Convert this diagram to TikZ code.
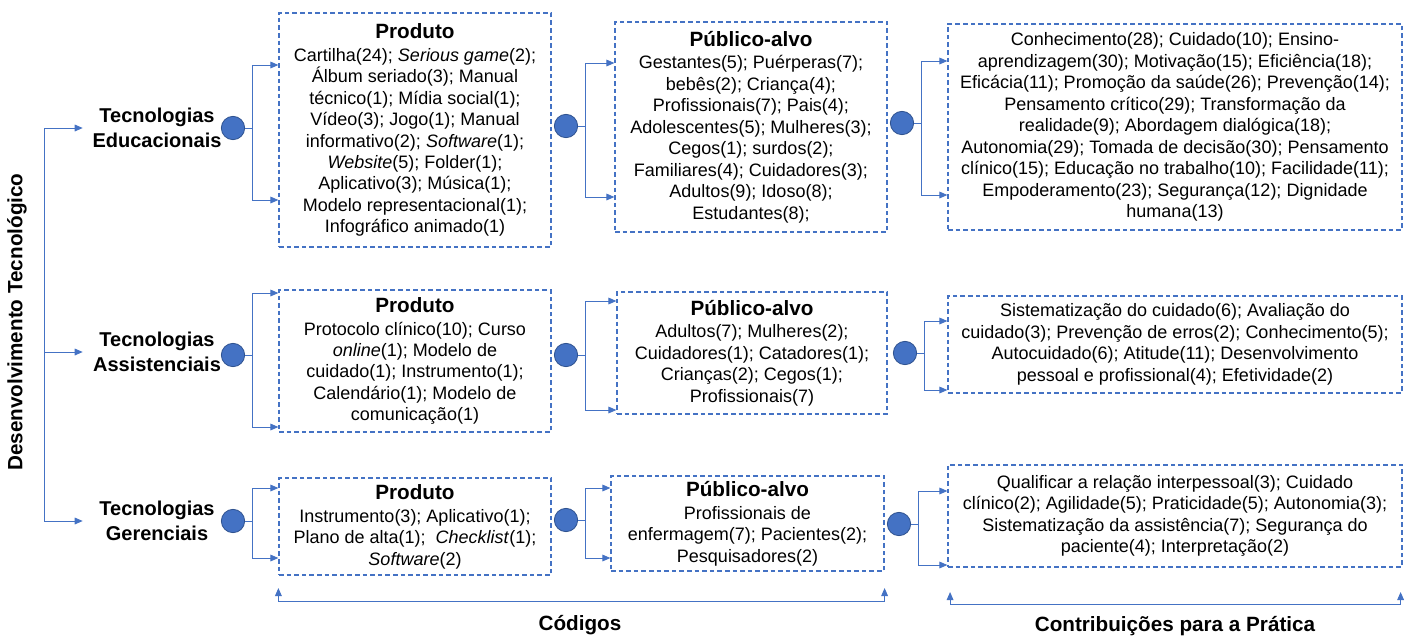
\documentclass[tikz,border=0pt]{standalone}
\usepackage{fontspec}
\setmainfont{Liberation Sans}
\usetikzlibrary{arrows.meta,positioning,calc}
\definecolor{officeblue}{RGB}{68,114,196}
\definecolor{officedark}{RGB}{47,82,143}

\newcommand{\boxtitle}[1]{{\fontsize{15.5}{18}\selectfont\bfseries #1}\\[1pt]}
\newcommand{\branch}[4]{%
  \draw[link] (#1.east) -- ++(7,0) coordinate (#1j);
  \draw[tips] (#2.west |- 0,#3) -| (#1j) |- (#2.west |- 0,#4);}

\begin{document}
\begin{tikzpicture}[x=0.75pt, y=-0.75pt,
  every node/.style={font=\fontsize{13.5}{16.1}\selectfont, text=black},
  box/.style={draw=officeblue, line width=0.9pt, dash pattern=on 3.5pt off 2.2pt, align=center, inner sep=2pt},
  dot/.style={circle, draw=officedark, line width=0.6pt, fill=officeblue, minimum size=17.5pt, inner sep=0pt},
  link/.style={draw=officeblue, line width=0.75pt},
  tips/.style={link, {Triangle[length=6pt,width=5pt]}-{Triangle[length=6pt,width=5pt]}},
  tip/.style={link, -{Triangle[length=6pt,width=5pt]}},
  tech/.style={font=\fontsize{15}{18.75}\selectfont\bfseries, align=center, minimum width=111pt, inner sep=0pt},
  caption/.style={font=\fontsize{15.5}{18}\selectfont\bfseries}]
\useasboundingbox (0,0) rectangle (1414,637);

% eixo principal
\node[rotate=90, caption] (dev) at (17,322) {Desenvolvimento Tecnológico};
\node[tech] (te) at (157,128) {Tecnologias\\Educacionais};
\node[tech] (ta) at (157,352) {Tecnologias\\Assistenciais};
\node[tech] (tg) at (157,521) {Tecnologias\\Gerenciais};
\coordinate (trunk) at (44,128);
\draw[link] (trunk) -- (trunk |- tg.west);
\draw[tip] (trunk) -- (te.west);
\draw[tip] (trunk |- ta.west) -- (ta.west);
\draw[tip] (trunk |- tg.west) -- (tg.west);

% linha 1: educacionais
\node[dot] (d11) at (233,128) {};
\node[box, minimum width=204pt, minimum height=175.5pt] (pe) at (415,130) {\boxtitle{Produto}Cartilha(24); \textit{Serious game}(2);\\Álbum seriado(3); Manual\\técnico(1); Mídia social(1);\\Vídeo(3); Jogo(1); Manual\\informativo(2); \textit{Software}(1);\\\textit{Website}(5); Folder(1);\\Aplicativo(3); Música(1);\\Modelo representacional(1);\\Infográfico animado(1)};
\node[dot] (d12) at (566,126) {};
\node[box, minimum width=204pt, minimum height=157.5pt] (ae) at (751,127) {\boxtitle{Público-alvo}Gestantes(5); Puérperas(7);\\bebês(2); Criança(4);\\Profissionais(7); Pais(4);\\Adolescentes(5); Mulheres(3);\\Cegos(1); surdos(2);\\Familiares(4); Cuidadores(3);\\Adultos(9); Idoso(8);\\Estudantes(8);};
\node[dot] (d13) at (902,123) {};
\node[box, minimum width=340.5pt, minimum height=154.5pt] (ce) at (1175,127) {Conhecimento(28); Cuidado(10); Ensino-\\aprendizagem(30); Motivação(15); Eficiência(18);\\Eficácia(11); Promoção da saúde(26); Prevenção(14);\\Pensamento crítico(29); Transformação da\\realidade(9); Abordagem dialógica(18);\\Autonomia(29); Tomada de decisão(30); Pensamento\\clínico(15); Educação no trabalho(10); Facilidade(11);\\Empoderamento(23); Segurança(12); Dignidade\\humana(13)};
\branch{d11}{pe}{65}{200}
\branch{d12}{ae}{63}{197}
\branch{d13}{ce}{61}{195}

% linha 2: assistenciais
\node[dot] (d21) at (233,355) {};
\node[box, minimum width=204pt, minimum height=106.5pt] (pa) at (415,361) {\boxtitle{Produto}Protocolo clínico(10); Curso\\\textit{online}(1); Modelo de\\cuidado(1); Instrumento(1);\\Calendário(1); Modelo de\\comunicação(1)};
\node[dot] (d22) at (566,355) {};
\node[box, minimum width=202.5pt, minimum height=91.5pt] (aa) at (752,353) {\boxtitle{Público-alvo}Adultos(7); Mulheres(2);\\Cuidadores(1); Catadores(1);\\Crianças(2); Cegos(1);\\Profissionais(7)};
\node[dot] (d23) at (905,353) {};
\node[box, minimum width=340.5pt, minimum height=72.75pt] (ca) at (1175,344.5) {Sistematização do cuidado(6); Avaliação do\\cuidado(3); Prevenção de erros(2); Conhecimento(5);\\Autocuidado(6); Atitude(11); Desenvolvimento\\pessoal e profissional(4); Efetividade(2)};
\branch{d21}{pa}{293}{427}
\branch{d22}{aa}{301}{410}
\branch{d23}{ca}{321}{390}

% linha 3: gerenciais
\node[dot] (d31) at (233,521) {};
\node[box, minimum width=204pt, minimum height=72.75pt] (pg) at (415,526.5) {\boxtitle{Produto}Instrumento(3); Aplicativo(1);\\Plano de alta(1);~ \textit{Checklist}(1);\\\textit{Software}(2)};
\node[dot] (d32) at (566,520) {};
\node[box, minimum width=204.75pt, minimum height=71.25pt] (ag) at (747.5,523.5) {\boxtitle{Público-alvo}Profissionais de\\enfermagem(7); Pacientes(2);\\Pesquisadores(2)};
\node[dot] (d33) at (899,524) {};
\node[box, minimum width=340.5pt, minimum height=76.5pt] (cg) at (1175,516) {Qualificar a relação interpessoal(3); Cuidado\\clínico(2); Agilidade(5); Praticidade(5); Autonomia(3);\\Sistematização da assistência(7); Segurança do\\paciente(4); Interpretação(2)};
\branch{d31}{pg}{488}{558}
\branch{d32}{ag}{488}{558}
\branch{d33}{cg}{491}{565}

% chaves inferiores
\draw[tips] (pg.south west |- 0,588) -- ++(0,13) -| (ag.south east |- 0,588);
\node[caption] (cod) at (580,625) {Códigos};
\draw[tips] ([xshift=2pt]cg.south west |- 0,592) -- ++(0,12) -| ([xshift=-1.5pt]cg.south east |- 0,592);
\node[caption] (contrib) at (1175,626) {Contribuições para a Prática};
\end{tikzpicture}
\end{document}
